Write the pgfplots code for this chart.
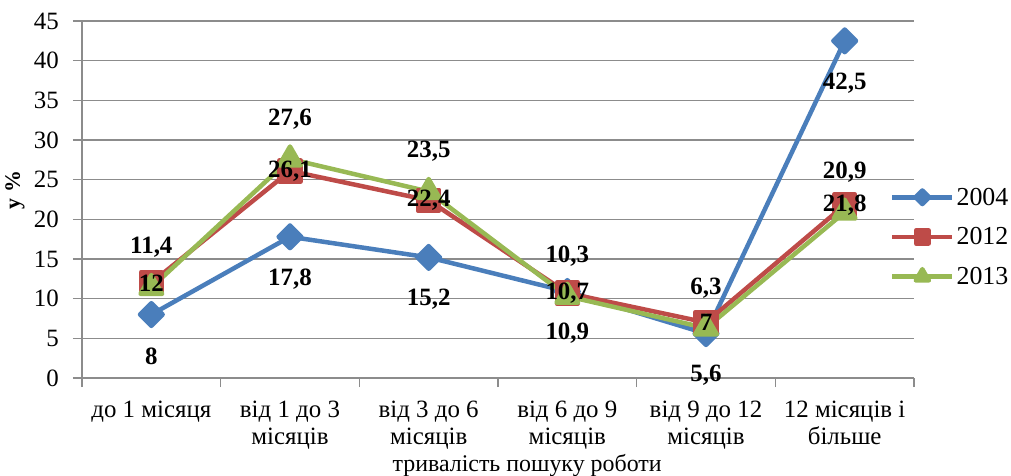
\documentclass[border=0pt]{standalone}
\usepackage{fontspec}
\setmainfont{Liberation Serif}
\usepackage{pgfplots}
\pgfplotsset{compat=1.18}
\definecolor{c04}{HTML}{4A7EBB}
\definecolor{c12}{HTML}{BE4B48}
\definecolor{c13}{HTML}{98B954}
\definecolor{gridc}{HTML}{8C8C8C}
\begin{document}
\begin{tikzpicture}
\path[use as bounding box] (-82bp,-98bp) rectangle (929bp,378bp);
\begin{axis}[
  at={(0,0)}, anchor=south west,
  scale only axis, width=832bp, height=357bp,
  xmin=-0.5, xmax=5.5, ymin=0, ymax=45,
  ytick={0,5,...,45},
  xtick={-0.5,0.5,1.5,2.5,3.5,4.5,5.5},
  x tick label as interval,
  xticklabels={до 1 місяця, {від 1 до 3\\місяців}, {від 3 до 6\\місяців}, {від 6 до 9\\місяців}, {від 9 до 12\\місяців}, {12 місяців і\\більше}},
  axis lines=left, axis line style={-, gridc, line width=1.2bp},
  ymajorgrids, grid style={gridc, line width=1.2bp},
  tick style={gridc, line width=1.2bp},
  tick align=outside, major tick length=9bp,
  /pgf/number format/assume math mode=true,
  ticklabel style={font=\fontsize{25}{27}\selectfont, inner sep=2bp},
  y tick label style={xshift=-12bp},
  x tick label style={align=center, anchor=north, yshift=-12bp},
  xlabel={тривалість пошуку роботи},
  xlabel style={font=\fontsize{24}{28}\selectfont, at={(rel axis cs:0.535,0)}, anchor=base, yshift=-93bp},
  ylabel={у \%},
  ylabel style={font=\fontsize{22}{26}\selectfont\bfseries, at={(rel axis cs:0,0.527)}, yshift=67bp, anchor=center},
  legend style={at={(rel axis cs:0.971,0.395)}, anchor=west, draw=none, fill=none,
    font=\fontsize{26}{30}\selectfont, row sep=17bp, inner sep=0pt,
    nodes={inner sep=2bp}},
  legend cell align=left,
  legend image code/.code={\draw[mark repeat=2,mark phase=2,/tikz/every mark/.append style={scale=0.6}] plot coordinates {(0bp,0bp)(30bp,0bp)(60bp,0bp)};},
  line join=round,
]
\addplot[c04, line width=4.5bp, mark=square*, mark size=8bp, mark options={rotate=45, solid}] table {
x y
0 8
1 17.8
2 15.2
3 10.9
4 5.6
5 42.5
};
\addlegendentry{2004}
\addplot[c12, line width=4.5bp, mark=square*, mark size=10.5bp, mark options={solid}] table {
x y
0 12
1 26.1
2 22.4
3 10.7
4 7
5 21.8
};
\addlegendentry{2012}
\addplot[c13, line width=4.5bp, mark=triangle*, mark size=12.5bp, mark options={solid}] table {
x y
0 11.4
1 27.6
2 23.5
3 10.3
4 6.3
5 20.9
};
\addlegendentry{2013}
% data labels
\addplot[draw=none, no markers, forget plot, nodes near coords, point meta=explicit symbolic,
  nodes near coords style={font=\fontsize{25}{30}\selectfont\bfseries, anchor=center, yshift=-42bp, text=black}]
  table[meta=l] {
x y l
0 8 8
1 17.8 17,8
2 15.2 15,2
3 10.9 10,9
4 5.6 5,6
5 42.5 42,5
};
\addplot[draw=none, no markers, forget plot, nodes near coords, point meta=explicit symbolic,
  nodes near coords style={font=\fontsize{25}{30}\selectfont\bfseries, anchor=center, yshift=0bp, text=black}]
  table[meta=l] {
x y l
0 12 12
1 26.1 26,1
2 22.4 22,4
3 10.7 10,7
4 7 7
5 21.8 21,8
};
\addplot[draw=none, no markers, forget plot, nodes near coords, point meta=explicit symbolic,
  nodes near coords style={font=\fontsize{25}{30}\selectfont\bfseries, anchor=center, yshift=40bp, text=black}]
  table[meta=l] {
x y l
0 11.4 11,4
1 27.6 27,6
2 23.5 23,5
3 10.3 10,3
4 6.3 6,3
5 20.9 20,9
};
\end{axis}
\end{tikzpicture}
\end{document}
